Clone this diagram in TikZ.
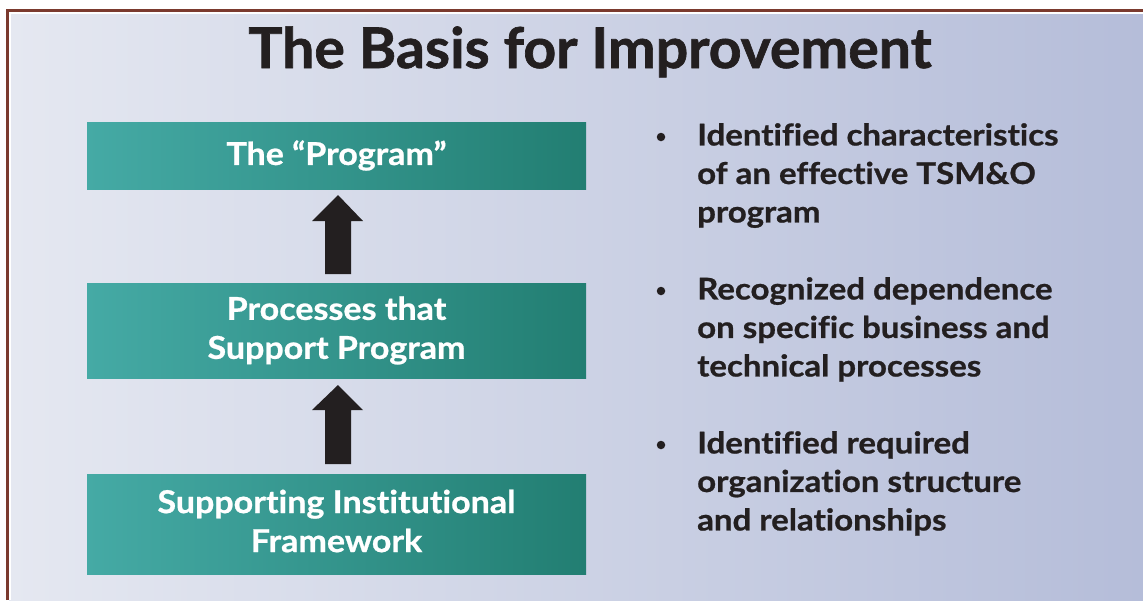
\documentclass[tikz,border=0pt]{standalone}
\usepackage{fontspec}
\setmainfont{Lato}[Ligatures=CommonOff]
\newfontfamily\titlefont{Lato}[Ligatures=CommonOff, FakeStretch=1.02, BoldFeatures={FakeBold=1.2}]
\newfontfamily\boxfont{Lato}[Ligatures=CommonOff, FakeStretch=1.08, BoldFeatures={FakeBold=0.8}]
\newfontfamily\listfont{Lato}[Ligatures=CommonOff, FakeStretch=1.1, BoldFeatures={FakeBold=0.8}]
\definecolor{bgL}{HTML}{E5E8F1}
\definecolor{bgR}{HTML}{B5BDD9}
\definecolor{tealL}{HTML}{45AAA5}
\definecolor{tealR}{HTML}{227E72}
\definecolor{frame}{HTML}{7B3A2E}
\definecolor{ink}{HTML}{231F20}
\tikzset{
  stage/.style={minimum width=499pt, inner sep=0pt, left color=tealL, right color=tealR,
    text=white, font=\boxfont\fontsize{31.5}{39}\selectfont\bfseries, align=center},
  stagetext/.style={inner sep=0pt, text=white, font=\boxfont\fontsize{31.5}{39}\selectfont\bfseries, align=center},
  uparrow/.style={fill=ink, draw=none},
  bullettext/.style={anchor=north west, inner sep=0pt, text=ink, align=left,
    font=\listfont\fontsize{30}{38.5}\selectfont\bfseries},
  bulletdot/.style={circle, fill=ink, inner sep=0pt, minimum size=8.5pt},
}
\begin{document}
\begin{tikzpicture}[x=1pt,y=-1pt]
\useasboundingbox (0,0) rectangle (1143,600);
\fill[white] (0,0) rectangle (1143,600);
\shade[left color=bgL, right color=bgR] (9,11) rectangle (1143,600);
\draw[frame, line width=3pt] (7.5,600) -- (7.5,10.5) -- (1143,10.5);
\draw[white, line width=2pt] (10,600) -- (10,13) -- (1143,13);
\node[text=ink, font=\titlefont\fontsize{56}{60}\selectfont\bfseries, anchor=base] (title) at (590,68) {The Basis for Improvement};
% boxes
\node[stage, minimum height=67pt] (prog) at (336.5,155.5) {The “Program”};
\node[stage, minimum height=95pt] (proc) at (336.5,330.5) {Processes that\\Support Program};
\node[stage, minimum height=100pt] (inst) at (336.5,524) {};
\node[stagetext] (insttext) at (336.5,521) {Supporting Institutional\\Framework};
% arrows
\coordinate (a1t) at (338,195);
\coordinate (a2t) at (338,385);
\fill[uparrow] (325,274) -- (325,221) -- (312,221) -- (a1t) -- (363,221) -- (351,221) -- (351,274) -- cycle;
\fill[uparrow] (325,464) -- (325,410) -- (312,410) -- (a2t) -- (363,410) -- (351,410) -- (351,464) -- cycle;
% bullets
\node[bullettext] (b1) at (697,123) {Identified characteristics\\of an effective TSM\&O\\program};
\node[bullettext] (b2) at (697,277) {Recognized dependence\\on specific business and\\technical processes};
\node[bullettext] (b3) at (697,431) {Identified required\\organization structure\\and relationships};
\node[bulletdot] (d1) at (661,137) {};
\node[bulletdot] (d2) at (661,291) {};
\node[bulletdot] (d3) at (661,445) {};
\end{tikzpicture}
\end{document}
